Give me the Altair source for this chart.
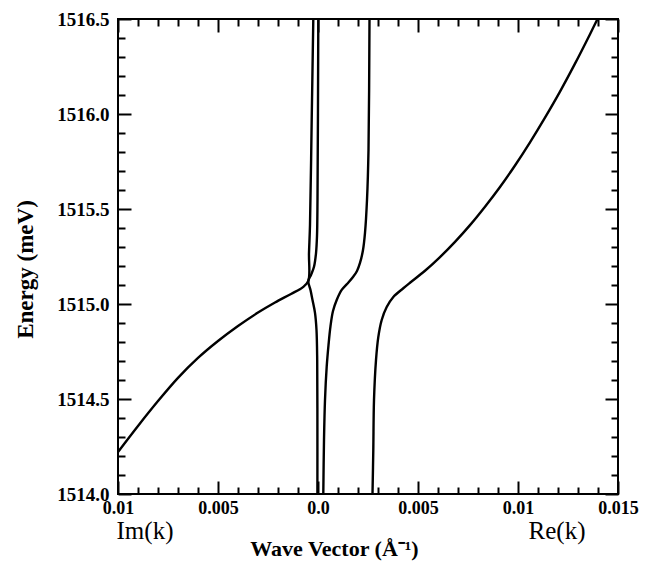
import altair as alt
import pandas as pd

# Im(k) branch (drawn at negative abscissa) joining the near-vertical line to the top
im_k = [-0.01, -0.009, -0.008, -0.007, -0.006, -0.005, -0.004, -0.003, -0.00215,
        -0.00135, -0.00075, -0.000485, -0.00045, -0.0004, -0.000315, -0.000235]
im_E = [1514.221, 1514.358, 1514.489, 1514.611, 1514.716, 1514.805, 1514.884, 1514.955,
        1515.008, 1515.053, 1515.089, 1515.121, 1515.268, 1515.416, 1515.968, 1516.5]

# Re(k) branch hugging k = 0
re0_k = [-0.00003, -0.00003, -0.00004, -0.000075, -0.00015, -0.000275, -0.000375,
         -0.000485, -0.00035, -0.0002, -0.0001, -0.00005, -0.000025, 0.000015]
re0_E = [1514.0, 1514.389, 1514.705, 1514.863, 1514.953, 1515.021, 1515.074,
         1515.121, 1515.153, 1515.196, 1515.267, 1515.358, 1515.547, 1516.5]

# Re(k) middle branch
re1_k = [0.000265, 0.0003, 0.00035, 0.000435, 0.000525, 0.000625, 0.00075, 0.000935,
         0.001185, 0.00145, 0.00175, 0.00195, 0.0021, 0.00225, 0.00235, 0.00245,
         0.002525, 0.002575]
re1_E = [1514.0, 1514.284, 1514.495, 1514.67, 1514.784, 1514.884, 1514.963, 1515.021,
         1515.074, 1515.105, 1515.142, 1515.174, 1515.216, 1515.284, 1515.374, 1515.547,
         1515.811, 1516.5]

# Re(k) polariton-like branch running off to the upper right
re2_k = [0.002725, 0.002765, 0.0028, 0.0029, 0.003015, 0.003185, 0.003435, 0.003765,
         0.004265, 0.0046, 0.00535, 0.0061, 0.00685, 0.0076, 0.00835, 0.0091, 0.00985,
         0.0106, 0.01135, 0.0121, 0.01285, 0.0136, 0.01405]
re2_E = [1514.0, 1514.232, 1514.495, 1514.705, 1514.826, 1514.916, 1514.984, 1515.037,
         1515.083, 1515.112, 1515.175, 1515.247, 1515.327, 1515.415, 1515.512, 1515.616,
         1515.729, 1515.851, 1515.981, 1516.118, 1516.265, 1516.42, 1516.516]

# Axis ticks and labels
x_ticks = [i / 1000 for i in range(-10, 16)]
x_major = [-0.01, -0.005, 0.0, 0.005, 0.01, 0.015]
x_major_labels = ["0.01", "0.005", "0.0", "0.005", "0.01", "0.015"]
y_ticks = [round(1514.0 + 0.1 * i, 1) for i in range(26)]
side_labels = ["Im(k)", "Re(k)"]

rows = []
for name, ks, es in [("im", im_k, im_E), ("re0", re0_k, re0_E),
                     ("re1", re1_k, re1_E), ("re2", re2_k, re2_E)]:
    for i, (k, e) in enumerate(zip(ks, es)):
        rows.append({"branch": name, "seq": i, "k": k, "E": e})
df = pd.DataFrame(rows)

FONT = "Liberation Serif"

x_label_expr = " : ".join(
    f"abs(datum.value - ({v})) < 1e-9 ? '{t}'" for v, t in zip(x_major, x_major_labels)
) + " : ''"
y_label_expr = "abs(datum.value * 2 - round(datum.value * 2)) < 0.01 ? format(datum.value, '.1f') : ''"
x_tick_size = {"expr": "abs(datum.value * 200 - round(datum.value * 200)) < 0.01 ? -13 : -7"}
y_tick_size = {"expr": "abs(datum.value * 2 - round(datum.value * 2)) < 0.01 ? -13 : -7"}

x_scale = alt.Scale(domain=[-0.01, 0.015], nice=False, zero=False)
y_scale = alt.Scale(domain=[1514.0, 1516.5], nice=False, zero=False)

common_axis = dict(domain=False, grid=False, tickColor="black", tickWidth=2,
                   labelFlush=False, labelOverlap=False)

lines = alt.Chart(df).mark_line(
    color="black", strokeWidth=2.4, clip=True, interpolate="catmull-rom"
).encode(
    x=alt.X("k:Q", scale=x_scale,
            axis=alt.Axis(orient="bottom", values=x_ticks, tickSize=x_tick_size,
                          labelExpr=x_label_expr, labelPadding=18,
                          labelFont=FONT, labelFontSize=18, labelFontWeight="bold",
                          labelColor="black",
                          title="Wave Vector (Å⁻¹)", titleFont=FONT, titleFontSize=22,
                          titleFontWeight="bold", titleColor="black",
                          titleX=216, titleY=61, titleAlign="center",
                          titleBaseline="alphabetic", **common_axis)),
    y=alt.Y("E:Q", scale=y_scale,
            axis=alt.Axis(orient="left", values=y_ticks, tickSize=y_tick_size,
                          labelExpr=y_label_expr, labelPadding=22,
                          labelFont=FONT, labelFontSize=19, labelFontWeight="bold",
                          labelColor="black",
                          title="Energy (meV)", titleFont=FONT, titleFontSize=23,
                          titleFontWeight="bold", titleColor="black",
                          titleX=-86, titleY=250, titleAlign="center",
                          titleBaseline="alphabetic", **common_axis)),
    detail="branch:N",
    order="seq:Q",
)

# Mirror ticks on the top and right edges of the frame
mirror = alt.Chart(df).mark_line(opacity=0).encode(
    x=alt.X("k:Q", scale=x_scale,
            axis=alt.Axis(orient="top", values=x_ticks, tickSize=x_tick_size,
                          labels=False, title="", **common_axis)),
    y=alt.Y("E:Q", scale=y_scale,
            axis=alt.Axis(orient="right", values=y_ticks, tickSize=y_tick_size,
                          labels=False, title="", **common_axis)),
    detail="branch:N",
    order="seq:Q",
)

im_text = alt.Chart(pd.DataFrame({"label": [side_labels[0]]})).mark_text(
    font=FONT, fontSize=25, color="black", align="center", baseline="alphabetic"
).encode(text="label:N", x=alt.value(27), y=alt.value(520))

re_text = alt.Chart(pd.DataFrame({"label": [side_labels[1]]})).mark_text(
    font=FONT, fontSize=25, color="black", align="center", baseline="alphabetic"
).encode(text="label:N", x=alt.value(439), y=alt.value(520))

chart = alt.layer(lines, mirror, im_text, re_text).resolve_axis(
    x="independent", y="independent"
).properties(
    width=500, height=475,
    padding={"left": 118, "top": 19, "right": 44, "bottom": 71},
    autosize=alt.AutoSizeParams(type="none"),
    background="white",
).configure_view(stroke="black", strokeWidth=2)

chart.save("out.html", embed_options={"renderer": "svg", "actions": False})
